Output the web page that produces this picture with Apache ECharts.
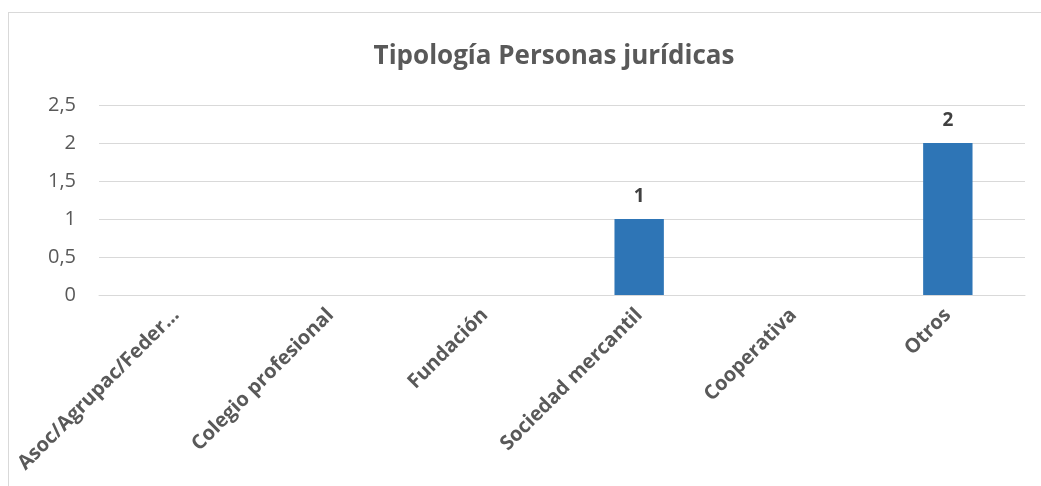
<!DOCTYPE html>
<html><head><meta charset="utf-8">
<script src="https://cdn.jsdelivr.net/npm/echarts@6/dist/echarts.min.js"></script>
<style>
html,body{margin:0;padding:0;background:#fff;overflow:hidden;}
#frame{position:absolute;left:8px;top:12px;width:1200px;height:700px;border:1px solid #d9d9d9;box-sizing:border-box;}
#chart{position:absolute;left:0;top:0;width:1041px;height:486px;}
</style></head>
<body>
<div id="frame"></div>
<div id="chart"></div>
<script>
const title = "Tipología Personas jurídicas";
const categories = ["Asoc/Agrupac/Feder…", "Colegio profesional", "Fundación", "Sociedad mercantil", "Cooperativa", "Otros"];
const values = [null, null, null, 1, null, 2];
const yTicks = [0, 0.5, 1, 1.5, 2, 2.5];

const chart = echarts.init(document.getElementById('chart'), null, {renderer: 'canvas'});
chart.setOption({
  backgroundColor: 'transparent',
  animation: false,
  title: {
    text: title, left: 549, textAlign: 'center', top: 39,
    textStyle: {fontFamily: 'Open Sans', fontWeight: 'bold', fontSize: 26, color: '#595959'}
  },
  grid: {left: 99, right: 16, top: 105, bottom: 191, containLabel: false},
  xAxis: {
    type: 'category', data: categories,
    axisLine: {show: true, lineStyle: {color: '#d9d9d9', width: 1}},
    axisTick: {show: false},
    axisLabel: {
      rotate: 45, interval: 0, margin: 17,
      fontFamily: 'Open Sans', fontWeight: 'bold', fontSize: 20, color: '#595959'
    }
  },
  yAxis: {
    type: 'value', min: yTicks[0], max: yTicks[yTicks.length - 1], interval: 0.5,
    axisLine: {show: false}, axisTick: {show: false},
    splitLine: {lineStyle: {color: '#d9d9d9', width: 1}},
    axisLabel: {
      margin: 23, fontFamily: 'Open Sans', fontSize: 20, color: '#595959',
      formatter: v => String(v).replace('.', ',')
    }
  },
  series: [{
    type: 'bar', data: values, barWidth: '32%',
    itemStyle: {color: '#2E75B6'},
    label: {
      show: true, position: 'top', distance: 13,
      fontFamily: 'Open Sans', fontWeight: 'bold', fontSize: 19, color: '#404040'
    }
  }]
});
</script>
</body></html>
